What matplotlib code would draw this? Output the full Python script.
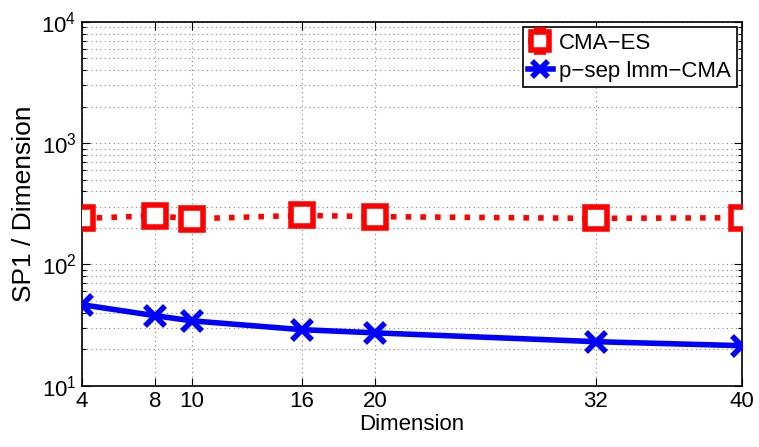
import matplotlib.pyplot as plt
from matplotlib.ticker import LogLocator, FixedLocator, NullFormatter

plt.rcParams["font.family"] = ["Liberation Sans", "DejaVu Sans"]

dims = [4, 8, 10, 16, 20, 32, 40]
cma_es = [240, 252, 238, 254, 248, 240, 243]
cma_es_err = [12, 14, 10, 12, 12, 8, 8]
psep_imm = [46.6, 37.8, 34.3, 29.0, 27.3, 23.1, 21.4]
x_ticks = [4, 8, 10, 16, 20, 32, 40]


def build_figure():
    fig = plt.figure(figsize=(7.59, 4.47), dpi=100, facecolor="white")
    ax = fig.add_axes([0.108, 0.137, 0.87, 0.814])

    red = ax.errorbar(dims, cma_es, yerr=cma_es_err, color="red", linestyle=":",
                      linewidth=4, marker="s", markersize=16, markerfacecolor="white",
                      markeredgewidth=4, capsize=4, elinewidth=2, capthick=2,
                      label="CMA\u2212ES", zorder=3)
    blue, = ax.plot(dims, psep_imm, color="blue", linestyle="-", linewidth=4,
                    marker="x", markersize=14, markeredgewidth=4,
                    label="p\u2212sep lmm\u2212CMA", zorder=3)

    ax.set_yscale("log")
    ax.set_xlim(4, 40)
    ax.set_ylim(10, 1e4)
    ax.xaxis.set_major_locator(FixedLocator(x_ticks))
    ax.set_xticklabels([str(t) for t in x_ticks])
    ax.yaxis.set_major_locator(LogLocator(base=10, numticks=10))
    ax.yaxis.set_minor_locator(LogLocator(base=10, subs=range(2, 10), numticks=10))
    ax.yaxis.set_minor_formatter(NullFormatter())

    ax.grid(True, which="major", axis="both", color="#888888",
            linestyle=(0, (1, 3)), linewidth=0.8)
    ax.grid(True, which="minor", axis="y", color="#888888",
            linestyle=(0, (1, 3)), linewidth=0.8)

    ax.tick_params(which="both", direction="in", top=True, right=True,
                   labelsize=16, width=0.8)
    ax.tick_params(which="major", length=6, pad=4)
    ax.tick_params(which="minor", length=3)
    for spine in ax.spines.values():
        spine.set_linewidth(1.2)

    ax.set_xlabel("Dimension", fontsize=16, labelpad=1)
    ax.set_ylabel("SP1 / Dimension", fontsize=19, labelpad=4)

    leg = ax.legend([red, blue], ["CMA\u2212ES", "p\u2212sep lmm\u2212CMA"],
                    loc="upper right", fontsize=16, frameon=True, fancybox=False,
                    edgecolor="black", framealpha=1, borderpad=0.25,
                    handlelength=1.1, handletextpad=0.3, labelspacing=0.3,
                    borderaxespad=0.25, markerscale=0.8)
    leg.get_frame().set_linewidth(1.2)
    return fig


def main():
    fig = build_figure()
    fig.savefig("out.png", dpi=100, facecolor=fig.get_facecolor())


if __name__ == "__main__":
    main()
